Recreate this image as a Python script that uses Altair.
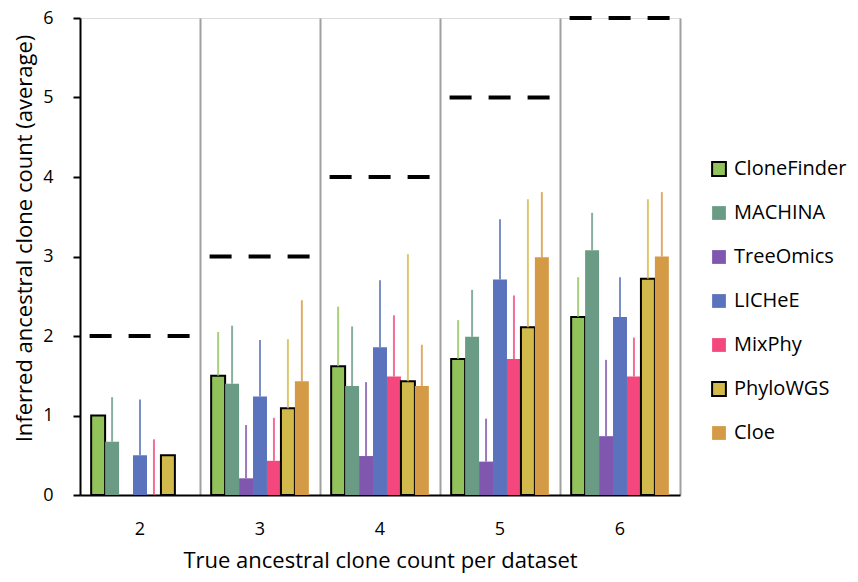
import altair as alt
import pandas as pd

groups = ["2", "3", "4", "5", "6"]
true_counts = [2, 3, 4, 5, 6]
methods = ["CloneFinder", "MACHINA", "TreeOmics", "LICHeE", "MixPhy", "PhyloWGS", "Cloe"]
colors = ["#92C35A", "#6A9B85", "#7F57AE", "#5A73BC", "#F4477D", "#D1BA4B", "#D49A45"]
strokes = ["black", "transparent", "transparent", "transparent", "transparent", "black", "transparent"]

means = {
    "CloneFinder": [1.00, 1.50, 1.62, 1.71, 2.24],
    "MACHINA":     [0.67, 1.40, 1.37, 1.99, 3.08],
    "TreeOmics":   [0.00, 0.21, 0.49, 0.42, 0.74],
    "LICHeE":      [0.50, 1.24, 1.86, 2.71, 2.24],
    "MixPhy":      [0.00, 0.43, 1.49, 1.71, 1.49],
    "PhyloWGS":    [0.50, 1.09, 1.43, 2.11, 2.72],
    "Cloe":        [0.00, 1.43, 1.37, 2.99, 3.00],
}
uppers = {
    "CloneFinder": [1.00, 2.05, 2.37, 2.20, 2.74],
    "MACHINA":     [1.23, 2.13, 2.12, 2.58, 3.55],
    "TreeOmics":   [0.00, 0.88, 1.42, 0.96, 1.70],
    "LICHeE":      [1.20, 1.95, 2.70, 3.47, 2.74],
    "MixPhy":      [0.70, 0.97, 2.26, 2.51, 1.98],
    "PhyloWGS":    [0.50, 1.96, 3.03, 3.72, 3.72],
    "Cloe":        [0.00, 2.45, 1.89, 3.81, 3.81],
}

rows = []
for m in methods:
    for i, g in enumerate(groups):
        rows.append({"group": g, "method": m, "mean": means[m][i], "upper": uppers[m][i]})
df = pd.DataFrame(rows)
df_true = pd.DataFrame({"group": groups, "truth": true_counts})

FONT = "Open Sans"

x_enc = alt.X(
    "group:N",
    sort=groups,
    scale=alt.Scale(paddingInner=0, paddingOuter=0),
    axis=alt.Axis(
        title="True ancestral clone count per dataset",
        labelAngle=0,
        ticks=False,
        grid=True,
        bandPosition=1,
        gridColor="#a0a0a0",
        gridWidth=2,
        domainColor="black",
        domainWidth=2,
        labelFontSize=18,
        labelPadding=25,
        labelColor="black",
        labelFont=FONT,
        titleFont=FONT,
        titleFontSize=22,
        titleFontWeight="normal",
        titleColor="black",
        titleX=300,
        titleY=65,
        titleBaseline="middle",
    ),
)
y_scale = alt.Scale(domain=[0, 6], nice=False)
y_axis = alt.Axis(
    title="Inferred ancestral clone count (average)",
    values=[0, 1, 2, 3, 4, 5, 6],
    format="d",
    grid=False,
    domainColor="black",
    domainWidth=2,
    tickColor="black",
    tickWidth=2,
    tickSize=7,
    labelFontSize=18,
    labelPadding=20,
    labelColor="black",
    labelFont=FONT,
    titleFont=FONT,
    titleFontSize=22,
    titleFontWeight="normal",
    titleColor="black",
    titleX=-56,
    titleY=220,
    titleAngle=-90,
    titleAlign="center",
    titleBaseline="middle",
)
xoff = alt.XOffset("method:N", sort=methods, scale=alt.Scale(paddingInner=0, paddingOuter=0.8))

legend_def = alt.Legend(
    title=None,
    orient="none",
    legendX=629,
    legendY=141,
    symbolType="square",
    symbolSize=190,
    symbolStrokeWidth=2,
    labelFontSize=20,
    labelFont=FONT,
    labelColor="black",
    rowPadding=22,
    labelOffset=5,
)
color_scale = alt.Scale(domain=methods, range=colors)
stroke_scale = alt.Scale(domain=methods, range=strokes)

bars = alt.Chart(df).mark_bar(strokeWidth=2).encode(
    x=x_enc,
    xOffset=xoff,
    y=alt.Y("mean:Q", scale=y_scale, axis=y_axis),
    color=alt.Color("method:N", sort=methods, scale=color_scale, legend=legend_def),
    stroke=alt.Stroke("method:N", sort=methods, scale=stroke_scale, legend=legend_def),
)

errs = alt.Chart(df).mark_bar(width=2, fillOpacity=0.8).encode(
    x=alt.X("group:N", sort=groups),
    xOffset=xoff,
    y=alt.Y("mean:Q", scale=y_scale),
    y2="upper:Q",
    color=alt.Color("method:N", sort=methods, scale=color_scale, legend=legend_def),
)

dashes = alt.Chart(df_true).mark_rule(strokeWidth=4, strokeDash=[22, 17], color="black").encode(
    x=alt.X("group:N", sort=groups, bandPosition=0.08),
    x2=alt.X2("group", bandPosition=0.92),
    y=alt.Y("truth:Q", scale=y_scale),
)

chart = (
    alt.layer(bars, errs, dashes)
    .properties(
        width=600,
        height=477,
        autosize=alt.AutoSizeParams(type="none"),
        padding={"left": 72, "top": 10, "right": 170, "bottom": 79},
    )
    .configure_view(stroke=None)
    .configure(font=FONT)
)

chart.save("out.html", embed_options={"renderer": "svg", "actions": False})
